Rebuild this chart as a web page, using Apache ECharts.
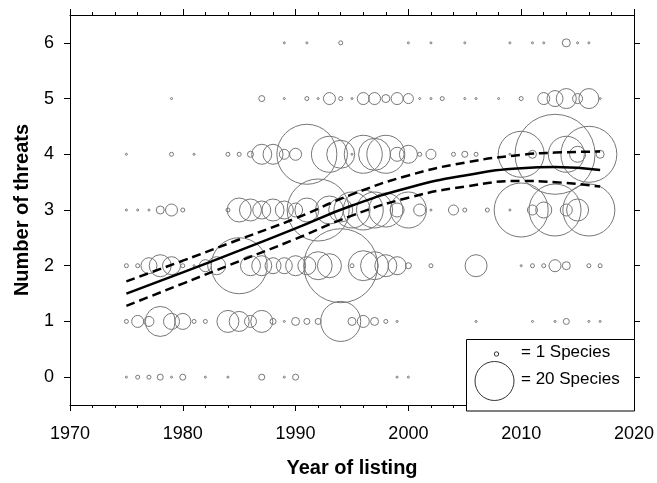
<!DOCTYPE html>
<html>
<head>
<meta charset="utf-8">
<script src="https://cdn.jsdelivr.net/npm/echarts@6/dist/echarts.min.js"></script>
<style>html,body{margin:0;padding:0;background:#fff}#c{width:657px;height:483px}</style>
</head>
<body>
<div id="c"></div>
<script>
// [year, number of species]
var threats0 = [[1975,1],[1976,2],[1977,2],[1978,3],[1979,1],[1980,3],[1982,1],[1984,1],[1987,3],[1989,1],[1990,3],[1999,1],[2000,1]];
var threats1 = [[1975,2],[1976,6],[1977,5],[1978,15],[1979,8],[1980,8],[1981,2],[1982,2],[1984,11],[1985,10],[1986,6],[1987,11],[1988,3],[1989,1],[1990,4],[1991,3],[1992,3],[1994,20],[1995,4],[1996,6],[1997,4],[1998,2],[1999,1],[2006,1],[2011,1],[2013,1],[2014,3],[2016,1],[2017,1]];
var threats2 = [[1975,2],[1976,2],[1977,8],[1978,11],[1979,9],[1980,2],[1981,1],[1982,6],[1983,9],[1985,28],[1986,10],[1987,10],[1988,8],[1989,8],[1990,10],[1991,9],[1992,14],[1993,12],[1994,37],[1995,2],[1996,15],[1997,14],[1998,11],[1999,9],[2000,3],[2002,2],[2006,11],[2010,1],[2011,2],[2012,2],[2013,6],[2014,4],[2016,2],[2017,2]];
var threats3 = [[1975,1],[1976,1],[1977,1],[1978,4],[1979,6],[1980,2],[1984,2],[1985,12],[1986,11],[1987,9],[1988,11],[1989,9],[1990,7],[1991,12],[1992,31],[1993,14],[1994,12],[1995,18],[1996,20],[1997,18],[1998,17],[1999,7],[2000,18],[2001,6],[2002,1],[2004,5],[2005,2],[2007,2],[2009,1],[2010,27],[2011,5],[2012,8],[2013,26],[2014,6],[2015,11],[2016,26]];
var threats4 = [[1975,1],[1979,2],[1981,1],[1984,2],[1985,2],[1986,3],[1987,10],[1988,10],[1989,5],[1990,6],[1991,30],[1993,18],[1994,14],[1995,1],[1996,19],[1997,16],[1998,19],[1999,7],[2000,9],[2001,2],[2002,5],[2004,2],[2005,3],[2006,2],[2009,1],[2010,23],[2011,4],[2013,40],[2014,18],[2015,8],[2016,28],[2017,4]];
var threats5 = [[1979,1],[1987,3],[1989,1],[1991,2],[1992,1],[1993,6],[1994,2],[1995,1],[1996,6],[1997,6],[1998,4],[1999,6],[2000,5],[2001,1],[2002,1],[2003,2],[2005,1],[2006,1],[2008,1],[2010,2],[2012,6],[2013,8],[2014,10],[2015,5],[2016,10],[2017,1]];
var threats6 = [[1989,1],[1991,1],[1994,2],[2000,1],[2002,1],[2005,1],[2009,1],[2011,1],[2012,1],[2014,4],[2015,1],[2016,1]];

var fitYears = [1975,1980,1985,1990,1995,2000,2005,2010,2013,2017];
var fitMean  = [1.50,1.88,2.27,2.67,3.08,3.40,3.62,3.75,3.77,3.72];
var fitUpper = [1.72,2.09,2.47,2.85,3.28,3.62,3.85,3.99,4.03,4.05];
var fitLower = [1.28,1.68,2.08,2.48,2.90,3.22,3.42,3.52,3.50,3.42];

var yTicks = [0,1,2,3,4,5,6];

var rows = [threats0,threats1,threats2,threats3,threats4,threats5,threats6];
var bubbles = [];
rows.forEach(function(r, k){ r.forEach(function(p){ bubbles.push([p[0], k, p[1]]); }); });
function pairs(ys){ return fitYears.map(function(x,i){ return [x, ys[i]]; }); }

var FONT = 'Liberation Sans, Arial, sans-serif';
var chart = echarts.init(document.getElementById('c'), null, {renderer:'canvas'});
var axisLine = {show:true, onZero:false, lineStyle:{color:'#000', width:1}};
var yearFmt = function(v){ return String(v); };
chart.setOption({
  animation:false,
  backgroundColor:'#fff',
  grid:{left:70, right:23, top:15, bottom:72, containLabel:false},
  xAxis:[{
    type:'value', min:1970, max:2020, interval:10, position:'bottom',
    axisLine:axisLine, splitLine:{show:false},
    axisTick:{show:true, length:6, lineStyle:{color:'#000'}},
    minorTick:{show:true, splitNumber:5, length:3, lineStyle:{color:'#000'}},
    axisLabel:{fontSize:18, color:'#000', fontFamily:FONT, margin:20, formatter:yearFmt},
    name:'Year of listing', nameLocation:'middle', nameGap:53,
    nameTextStyle:{fontSize:20, fontWeight:'bold', color:'#000', fontFamily:FONT}
  },{
    type:'value', min:1970, max:2020, interval:10, position:'top',
    axisLine:axisLine, splitLine:{show:false},
    axisTick:{show:true, length:6, lineStyle:{color:'#000'}},
    minorTick:{show:true, splitNumber:5, length:3, lineStyle:{color:'#000'}},
    axisLabel:{show:false}
  }],
  yAxis:[{
    type:'value', min:-0.5, max:6.5, position:'left',
    axisLine:axisLine, splitLine:{show:false},
    axisTick:{show:true, length:6, customValues:yTicks, lineStyle:{color:'#000'}},
    axisLabel:{fontSize:18, color:'#000', fontFamily:FONT, margin:16, customValues:yTicks},
    name:'Number of threats', nameLocation:'middle', nameGap:38, nameRotate:90,
    nameTextStyle:{fontSize:20, fontWeight:'bold', color:'#000', fontFamily:FONT}
  },{
    type:'value', min:-0.5, max:6.5, position:'right',
    axisLine:axisLine, splitLine:{show:false},
    axisTick:{show:true, length:6, customValues:yTicks, lineStyle:{color:'#000'}},
    axisLabel:{show:false, customValues:yTicks}
  }],
  series:[{
    type:'scatter', data:bubbles, z:2,
    symbol:'circle',
    symbolSize:function(v){ return 2*v[2]; },
    itemStyle:{color:'rgba(0,0,0,0)', borderColor:'#777', borderWidth:1, opacity:1},
    emphasis:{disabled:true}
  },{
    type:'line', data:pairs(fitMean), smooth:true, symbol:'none', z:5,
    lineStyle:{color:'#000', width:2.5}
  },{
    type:'line', data:pairs(fitUpper), smooth:true, symbol:'none', z:5,
    lineStyle:{color:'#000', width:2.5, type:[9,5]}
  },{
    type:'line', data:pairs(fitLower), smooth:true, symbol:'none', z:5,
    lineStyle:{color:'#000', width:2.5, type:[9,5]}
  }],
  graphic:[
    {type:'rect', z:10, shape:{x:466.5, y:339.5, width:168, height:71.5}, style:{fill:'#fff', stroke:'#000', lineWidth:1}},
    {type:'circle', z:11, shape:{cx:496.5, cy:354, r:2.2}, style:{fill:'none', stroke:'#333', lineWidth:1}},
    {type:'circle', z:11, shape:{cx:494.5, cy:381, r:19.5}, style:{fill:'none', stroke:'#333', lineWidth:1}},
    {type:'text', z:11, x:521, y:352, style:{text:'= 1 Species', font:'17px '+FONT, fill:'#000', verticalAlign:'middle'}},
    {type:'text', z:11, x:521, y:379, style:{text:'= 20 Species', font:'17px '+FONT, fill:'#000', verticalAlign:'middle'}}
  ]
});
</script>
</body>
</html>
